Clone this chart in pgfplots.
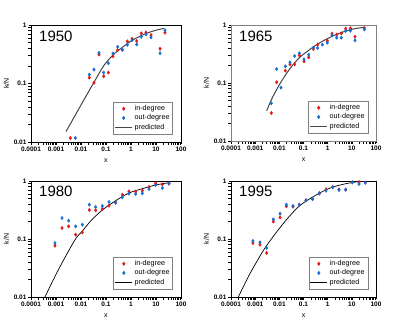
\documentclass[border=0pt]{standalone}
\usepackage{fontspec}
\setmainfont{Liberation Sans}
\usepackage{pgfplots}
\pgfplotsset{compat=1.18}
\definecolor{indeg}{RGB}{232,22,22}
\definecolor{outdeg}{RGB}{22,110,212}
\definecolor{predg}{RGB}{70,70,70}
\pgfplotsset{every axis/.append style={
    scale only axis,
    xmin=0.0001, xmax=100, ymin=0.01, ymax=1,
    xtick={0.0001,0.001,0.01,0.1,1,10,100},
    xticklabels={0.0001,0.001,0.01,0.1,1,10,100},
    ytick={0.01,0.1,1},
    yticklabels={0.01,0.1,1},
    minor tick num=0,
    tick align=outside, xtick pos=bottom, ytick pos=left,
    major tick length=2pt,
    tick style={black,line width=0.4pt},
    ticklabel style={font=\fontsize{6.5}{6.5}\selectfont\bfseries},
    xticklabel style={yshift=1pt},
    yticklabel style={xshift=1pt},
    xlabel={x}, ylabel={k/N},
    label style={font=\fontsize{7}{7}\selectfont},
    xlabel style={yshift=-1pt},
    ylabel style={yshift=-2pt},
    legend cell align=left,
    legend style={at={(1,0)}, anchor=south east, xshift=-8pt, yshift=8pt,
      font=\fontsize{7.2}{8.5}\selectfont, draw=gray, line width=0.5pt,
      inner sep=1.2pt, row sep=-1.5pt},
  }}
\begin{document}
\begin{tikzpicture}
\path[use as bounding box] (0,0) rectangle (399pt,333pt);
% 1950
\begin{loglogaxis}[at={(31pt,191pt)}, anchor=south west, width=150pt, height=117pt]
\addplot[only marks, mark=diamond*, mark size=1.7pt, color=indeg] coordinates {
(0.00374,0.0117) (0.0215,0.126) (0.0331,0.103) (0.0525,0.313) (0.0807,0.133)
(0.124,0.154) (0.19,0.293) (0.293,0.372) (0.45,0.377) (0.713,0.524)
(1.1,0.582) (1.69,0.531) (2.59,0.719) (3.98,0.748) (6.31,0.673) (14.5,0.392) (22.9,0.738)};
\addlegendentry{in-degree}
\addplot[only marks, mark=diamond*, mark size=1.7pt, color=outdeg] coordinates {
(0.00593,0.0117) (0.0215,0.142) (0.0331,0.173) (0.0525,0.334) (0.0807,0.154)
(0.124,0.222) (0.19,0.326) (0.293,0.424) (0.45,0.377) (0.713,0.459)
(1.1,0.552) (1.69,0.465) (2.59,0.63) (3.98,0.691) (6.31,0.614) (14.5,0.33) (22.9,0.81)};
\addlegendentry{out-degree}
\addplot[no marks, smooth, line width=1pt, color=predg] coordinates {
(0.00251,0.0151) (0.0054,0.0269) (0.0136,0.0541) (0.0331,0.105) (0.0858,0.208)
(0.215,0.322) (0.464,0.419) (1.0,0.531) (2.51,0.656) (6.31,0.768) (13.6,0.842) (21.5,0.877)};
\addlegendentry{predicted}
\node[anchor=north west, inner sep=0pt, font=\fontsize{15}{15}\selectfont] at (rel axis cs:0,1) [xshift=8pt,yshift=-6pt] {1950};
\end{loglogaxis}
% 1965
\begin{loglogaxis}[at={(231pt,192pt)}, anchor=south west, width=145pt, height=116pt, axis line style={gray}]
\addplot[only marks, mark=diamond*, mark size=1.7pt, color=indeg] coordinates {
(0.00467,0.0304) (0.00776,0.103) (0.0177,0.163) (0.0276,0.21) (0.043,0.21)
(0.0673,0.3) (0.105,0.236) (0.164,0.277) (0.255,0.386) (0.386,0.458)
(0.968,0.537) (1.51,0.709) (2.36,0.681) (3.68,0.718) (5.56,0.865) (8.67,0.877) (13.5,0.629) (32.9,0.888)};
\addlegendentry{in-degree}
\addplot[only marks, mark=diamond*, mark size=1.7pt, color=outdeg] coordinates {
(0.00467,0.0446) (0.00776,0.174) (0.0117,0.0831) (0.0177,0.194) (0.0276,0.227)
(0.043,0.292) (0.0673,0.325) (0.105,0.256) (0.164,0.308) (0.255,0.407)
(0.386,0.401) (0.601,0.458) (0.968,0.496) (1.51,0.664) (2.36,0.605)
(3.68,0.604) (5.56,0.788) (8.67,0.798) (13.5,0.544) (32.9,0.842)};
\addlegendentry{out-degree}
\addplot[no marks, smooth, line width=1pt, color=predg] coordinates {
(0.00299,0.0333) (0.0053,0.0574) (0.0117,0.104) (0.0276,0.177) (0.0673,0.273)
(0.164,0.366) (0.386,0.47) (0.968,0.581) (2.36,0.69) (5.74,0.788) (13.5,0.865) (32.9,0.912)};
\addlegendentry{predicted}
\node[anchor=north west, inner sep=0pt, font=\fontsize{15}{15}\selectfont] at (rel axis cs:0,1) [xshift=8pt,yshift=-6pt] {1965};
\end{loglogaxis}
% 1980
\begin{loglogaxis}[at={(31pt,36pt)}, anchor=south west, width=150pt, height=116pt]
\addplot[only marks, mark=diamond*, mark size=1.7pt, color=indeg] coordinates {
(0.00091,0.0767) (0.00174,0.155) (0.00321,0.165) (0.00612,0.119) (0.0113,0.13)
(0.0215,0.316) (0.0386,0.312) (0.0713,0.333) (0.132,0.376) (0.244,0.423)
(0.45,0.581) (0.83,0.663) (1.54,0.655) (2.84,0.681) (5.25,0.788) (9.7,0.912) (17.9,0.877) (33.1,0.9)};
\addlegendentry{in-degree}
\addplot[only marks, mark=diamond*, mark size=1.7pt, color=outdeg] coordinates {
(0.00091,0.0853) (0.00174,0.23) (0.00321,0.207) (0.00612,0.165) (0.0113,0.177)
(0.0215,0.391) (0.0386,0.356) (0.0713,0.371) (0.132,0.435) (0.244,0.423)
(0.45,0.523) (0.83,0.605) (1.54,0.597) (2.84,0.613) (5.25,0.728) (9.7,0.853) (17.9,0.757) (33.1,0.912)};
\addlegendentry{out-degree}
\addplot[no marks, smooth, line width=0.7pt, color=black] coordinates {
(0.000363,0.01) (0.000912,0.0227) (0.00215,0.0458) (0.00612,0.101) (0.0117,0.139)
(0.0251,0.207) (0.0713,0.316) (0.244,0.458) (0.832,0.621) (2.84,0.738) (9.7,0.853) (33.1,0.936)};
\addlegendentry{predicted}
\node[anchor=north west, inner sep=0pt, font=\fontsize{15}{15}\selectfont] at (rel axis cs:0,1) [xshift=8pt,yshift=-5pt] {1980};
\end{loglogaxis}
% 1995
\begin{loglogaxis}[at={(231pt,36pt)}, anchor=south west, width=145pt, height=116pt]
\addplot[only marks, mark=diamond*, mark size=1.7pt, color=indeg] coordinates {
(0.00081,0.0853) (0.00158,0.0798) (0.00299,0.0574) (0.00565,0.2) (0.0107,0.236)
(0.0195,0.366) (0.0368,0.361) (0.0673,0.391) (0.127,0.464) (0.239,0.49)
(0.452,0.621) (0.853,0.718) (1.61,0.788) (2.94,0.718) (5.56,0.709) (10.5,0.948) (19.8,0.96) (36.2,0.936)};
\addlegendentry{in-degree}
\addplot[only marks, mark=diamond*, mark size=1.7pt, color=outdeg] coordinates {
(0.00081,0.0924) (0.00158,0.0876) (0.00299,0.07) (0.00565,0.218) (0.0107,0.273)
(0.0195,0.391) (0.0368,0.371) (0.0673,0.391) (0.127,0.464) (0.239,0.49)
(0.452,0.605) (0.853,0.681) (1.61,0.778) (2.94,0.70) (5.56,0.709) (10.5,0.948) (19.8,0.887) (36.2,0.936)};
\addlegendentry{out-degree}
\addplot[no marks, smooth, line width=0.7pt, color=black] coordinates {
(0.000201,0.01) (0.00049,0.0213) (0.00108,0.0386) (0.00239,0.0673) (0.00565,0.111)
(0.0117,0.165) (0.0259,0.246) (0.0673,0.371) (0.204,0.509) (0.53,0.638)
(1.37,0.767) (4.9,0.888) (17.4,0.974) (38.5,1.0)};
\addlegendentry{predicted}
\node[anchor=north west, inner sep=0pt, font=\fontsize{15}{15}\selectfont] at (rel axis cs:0,1) [xshift=8pt,yshift=-5pt] {1995};
\end{loglogaxis}
\end{tikzpicture}
\end{document}
